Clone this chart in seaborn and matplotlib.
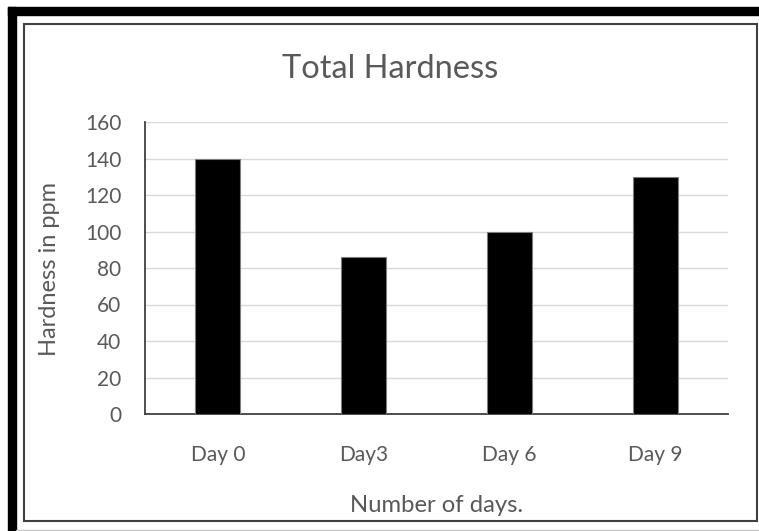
import matplotlib.pyplot as plt
import pandas as pd
import seaborn as sns
from matplotlib.patches import Rectangle

days = ["Day 0", "Day3", "Day 6", "Day 9"]
hardness = [140, 86, 100, 130]
y_ticks = [0, 20, 40, 60, 80, 100, 120, 140, 160]

W, H = 759, 531
TEXT = "#595959"


def main() -> None:
    sns.set_theme(style="white")
    plt.rcParams["font.family"] = ["Lato", "DejaVu Sans"]

    df = pd.DataFrame({"day": days, "hardness": hardness})

    fig = plt.figure(figsize=(W / 100, H / 100), dpi=100)
    ax = fig.add_axes([145 / W, 1 - 414 / H, (728 - 145) / W, (414 - 122) / H])

    sns.barplot(data=df, x="day", y="hardness", color="black", width=0.31,
                edgecolor="#7f7f7f", linewidth=0.8, ax=ax, zorder=3)

    ax.set_ylim(0, 160)
    ax.set_yticks(y_ticks)
    ax.yaxis.grid(True, color="#d9d9d9", linewidth=1, zorder=0)
    ax.set_axisbelow(True)
    for side in ["top", "right"]:
        ax.spines[side].set_visible(False)
    for side in ["left", "bottom"]:
        ax.spines[side].set_color("#404040")
        ax.spines[side].set_linewidth(1.3)
    ax.tick_params(axis="both", length=0, labelsize=15, labelcolor=TEXT)
    ax.tick_params(axis="x", pad=22)
    ax.tick_params(axis="y", pad=17)
    ax.set_xlabel("")
    ax.set_ylabel("")

    # title and axis titles sit where the original chart put them
    fig.text(390 / W, 1 - 69 / H, "Total Hardness", fontsize=23.5, color=TEXT,
             ha="center", va="center")
    fig.text(436.5 / W, 1 - 505 / H, "Number of days.", fontsize=17.2, color=TEXT,
             ha="center", va="center")
    fig.text(50 / W, 1 - 269 / H, "Hardness in ppm", fontsize=17, color=TEXT,
             ha="center", va="center", rotation=90)

    # screenshot frame: thick black edge at left/top, thin box round the chart
    fig.add_artist(Rectangle((8 / W, 0), 8 / W, (H - 7) / H,
                             transform=fig.transFigure, color="black"))
    fig.add_artist(Rectangle((8 / W, 1 - 15 / H), (W - 8) / W, 8 / H,
                             transform=fig.transFigure, color="black"))
    fig.add_artist(Rectangle((24 / W, 1 - 521 / H), (757 - 24) / W, (521 - 24) / H,
                             transform=fig.transFigure, fill=False,
                             edgecolor="#404040", linewidth=1.5))
    fig.add_artist(plt.Line2D([16 / W, 1], [1 - 530 / H, 1 - 530 / H],
                              transform=fig.transFigure, color="#c8c8c8", linewidth=1))

    fig.savefig("out.png", dpi=100)


if __name__ == "__main__":
    main()
